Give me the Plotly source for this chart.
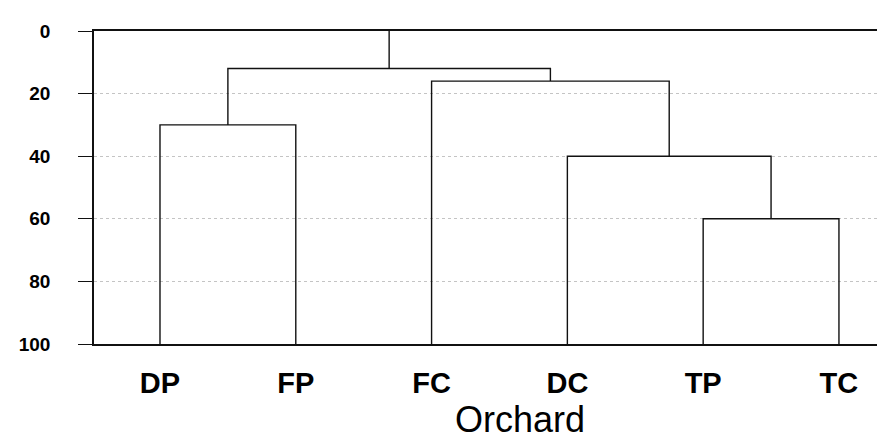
import plotly.graph_objects as go

# ---- data ----
leaves = ["DP", "FP", "FC", "DC", "TP", "TC"]
# linkage: (left child, right child, height); nodes 0-5 are leaves, new nodes numbered from 6
merge_left = [0, 4, 3, 2, 6]
merge_right = [1, 5, 7, 8, 9]
merge_height = [30, 60, 40, 16, 12]
leaf_level = 100
root_top = 0
y_ticks = [0, 20, 40, 60, 80, 100]
x_title = "Orchard"

# ---- build dendrogram segments ----
node_x = {i: float(i) for i in range(len(leaves))}
node_y = {i: float(leaf_level) for i in range(len(leaves))}
xs, ys = [], []
for k, (a, b, h) in enumerate(zip(merge_left, merge_right, merge_height)):
    nid = len(leaves) + k
    xs += [node_x[a], node_x[a], node_x[b], node_x[b], None]
    ys += [node_y[a], h, h, node_y[b], None]
    node_x[nid] = (node_x[a] + node_x[b]) / 2
    node_y[nid] = h
root = len(leaves) + len(merge_height) - 1
xs += [node_x[root], node_x[root], None]
ys += [node_y[root], root_top, None]

FONT = "Arial, Liberation Sans, sans-serif"
fig = go.Figure()
fig.add_trace(go.Scatter(x=xs, y=ys, mode="lines",
                         line=dict(color="#111111", width=1.4),
                         hoverinfo="skip", showlegend=False))

fig.update_layout(
    width=885, height=439,
    margin=dict(l=86, r=0, t=23, b=103),
    paper_bgcolor="white", plot_bgcolor="white",
    font=dict(family=FONT, color="black"),
)
fig.update_xaxes(
    range=[-0.486, 5.398],
    tickvals=list(range(len(leaves))), ticktext=leaves,
    tickfont=dict(size=29, family=FONT, color="black", weight="bold"),
    ticks="", showgrid=False, zeroline=False,
    showline=True, linecolor="#111111", linewidth=1.6, mirror=True,
    ticklabelstandoff=12,
)
fig.update_yaxes(
    range=[100, 0],
    tickvals=y_ticks,
    tickfont=dict(size=19, family=FONT, color="black", weight="bold"),
    ticks="outside", ticklen=14, tickcolor="#111111", tickwidth=1,
    showgrid=True, gridcolor="#c4c4c4", griddash="dot", gridwidth=1,
    zeroline=False,
    showline=True, linecolor="#111111", linewidth=1.6,
    ticklabelstandoff=24,
)
fig.add_annotation(text=x_title, xref="paper", yref="paper",
                   x=0.533, y=-0.312, xanchor="center", yanchor="bottom",
                   showarrow=False,
                   font=dict(size=36, family=FONT, color="black"))

fig.write_html("out.html")
